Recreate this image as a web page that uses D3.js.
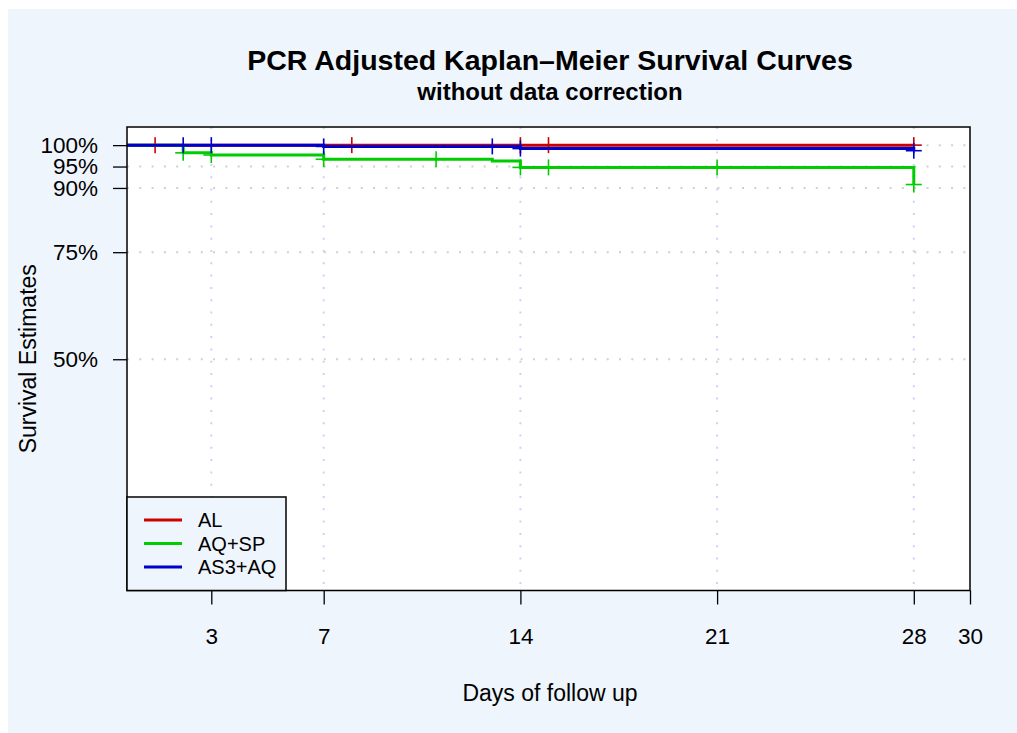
<!DOCTYPE html>
<html>
<head>
<meta charset="utf-8">
<script src="https://cdn.jsdelivr.net/npm/d3@7"></script>
<style>
  body { margin: 0; background: #fff; }
  text { font-family: "Liberation Sans", Arial, sans-serif; fill: #000; }
</style>
</head>
<body>
<svg id="chart" width="1017" height="733"></svg>
<script>
// groups and colours
var groups = ["AL", "AQ+SP", "AS3+AQ"];
var colors = ["#CD0000", "#00CD00", "#0000CD"];

// step times (days) and survival after each step
var alTimes = [0, 28];
var alSurv = [1, 1];
var alCensor = [1, 8, 14, 15, 28];

var aqspTimes = [0, 2, 3, 7, 13, 14, 28];
var aqspSurv = [1, 0.982, 0.977, 0.967, 0.963, 0.948, 0.908];
var aqspCensor = [2, 3, 7, 11, 14, 15, 21, 28];

var asaqTimes = [0, 7, 14, 28];
var asaqSurv = [1, 0.997, 0.992, 0.987];
var asaqCensor = [2, 3, 7, 13, 14, 28];

// axis ticks
var xTicks = [3, 7, 14, 21, 28, 30];
var xGrid = [3, 7, 14, 21, 28];
var yTicks = [1, 0.95, 0.9, 0.75, 0.5];
var yLabels = ["100%", "95%", "90%", "75%", "50%"];

var curves = [
  { times: alTimes, surv: alSurv, censor: alCensor },
  { times: aqspTimes, surv: aqspSurv, censor: aqspCensor },
  { times: asaqTimes, surv: asaqSurv, censor: asaqCensor }
];

var svg = d3.select("#chart");
var pLeft = 127, pRight = 970, pTop = 127, pBottom = 590.5;

var x = d3.scaleLinear().domain([0, 30]).range([pLeft, pRight]);
var y = d3.scaleLinear().domain([-0.04, 1.04]).range([pBottom, pTop + 1]);

// figure background
svg.append("rect").attr("x", 8).attr("y", 9).attr("width", 1009).attr("height", 724)
  .attr("fill", "#EEF5FD");
svg.append("rect").attr("x", pLeft).attr("y", pTop)
  .attr("width", pRight - pLeft).attr("height", pBottom - pTop).attr("fill", "#fff");

/* grid */
svg.append("g").selectAll("line").data(yTicks).enter().append("line")
  .attr("x1", pLeft).attr("x2", pRight)
  .attr("y1", function (d) { return y(d); }).attr("y2", function (d) { return y(d); })
  .attr("stroke", "#d0d0d0").attr("stroke-width", 2).attr("stroke-dasharray", "2,10.3");
svg.append("g").selectAll("line").data(xGrid).enter().append("line")
  .attr("y1", pTop).attr("y2", pBottom)
  .attr("x1", function (d) { return x(d); }).attr("x2", function (d) { return x(d); })
  .attr("stroke", "#cfd0f6").attr("stroke-width", 2).attr("stroke-dasharray", "2,10.3");

/* curves */
var line = d3.line()
  .x(function (d) { return x(d[0]); })
  .y(function (d) { return y(d[1]); })
  .curve(d3.curveStepAfter);

function survAt(c, t) {
  var s = c.surv[0];
  for (var i = 0; i < c.times.length; i++) {
    if (c.times[i] <= t) s = c.surv[i];
  }
  return s;
}

curves.forEach(function (c, k) {
  var pts = c.times.map(function (t, i) { return [t, c.surv[i]]; });
  svg.append("path").datum(pts).attr("d", line)
    .attr("fill", "none").attr("stroke", colors[k]).attr("stroke-width", 3);

  var m = svg.append("g").selectAll("g").data(c.censor).enter().append("g")
    .attr("transform", function (t) {
      return "translate(" + x(t) + "," + y(survAt(c, t)) + ")";
    });
  m.append("line").attr("x1", -8).attr("x2", 8)
    .attr("stroke", colors[k]).attr("stroke-width", 1.6);
  m.append("line").attr("y1", -8).attr("y2", 8)
    .attr("stroke", colors[k]).attr("stroke-width", 1.6);
});

// box
svg.append("rect").attr("x", pLeft).attr("y", pTop)
  .attr("width", pRight - pLeft).attr("height", pBottom - pTop)
  .attr("fill", "none").attr("stroke", "#000").attr("stroke-width", 1.5);

/* axes */
var yAxis = d3.axisLeft(y).tickValues(yTicks).tickSize(14).tickPadding(15)
  .tickFormat(function (d, i) { return yLabels[i]; });
var gy = svg.append("g").attr("transform", "translate(" + pLeft + ",0)").call(yAxis);

var xAxis = d3.axisBottom(x).tickValues(xTicks).tickSize(14).tickPadding(24);
var gx = svg.append("g").attr("transform", "translate(0," + pBottom + ")").call(xAxis);

[gy, gx].forEach(function (g) {
  g.select(".domain").remove();
  g.attr("font-family", null).attr("font-size", null);
  g.selectAll(".tick line").attr("stroke", "#000").attr("stroke-width", 1.3);
  g.selectAll(".tick text").style("font-size", "22.5px").attr("fill", "#000");
});

/* titles */
svg.append("text").attr("x", 550).attr("y", 70).attr("text-anchor", "middle")
  .style("font-size", "28.5px").style("font-weight", "bold")
  .text("PCR Adjusted Kaplan\u2013Meier Survival Curves");
svg.append("text").attr("x", 550).attr("y", 100).attr("text-anchor", "middle")
  .style("font-size", "24px").style("font-weight", "bold")
  .text("without data correction");
svg.append("text").attr("x", 550).attr("y", 701).attr("text-anchor", "middle")
  .style("font-size", "23px").text("Days of follow up");
svg.append("text").attr("transform", "translate(36," + ((pTop + pBottom) / 2) + ") rotate(-90)")
  .attr("text-anchor", "middle").style("font-size", "23px").text("Survival Estimates");

/* legend */
var lg = svg.append("g");
lg.append("rect").attr("x", pLeft).attr("y", 497).attr("width", 159).attr("height", pBottom - 497)
  .attr("fill", "#EEF5FD").attr("stroke", "#000").attr("stroke-width", 1.5);
var item = lg.selectAll("g").data(groups).enter().append("g")
  .attr("transform", function (d, i) { return "translate(0," + (520 + i * 23.5) + ")"; });
item.append("line").attr("x1", 144).attr("x2", 182)
  .attr("stroke", function (d, i) { return colors[i]; }).attr("stroke-width", 3);
item.append("text").attr("x", 198).attr("y", 7).style("font-size", "20px")
  .text(function (d) { return d; });
</script>
</body>
</html>
